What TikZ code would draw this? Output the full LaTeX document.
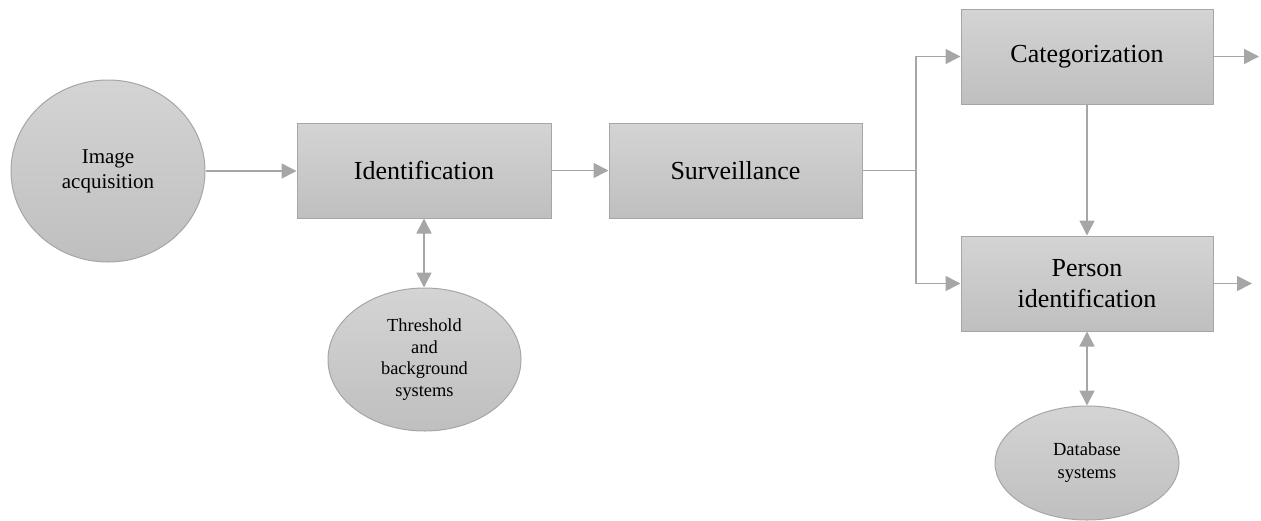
\documentclass[tikz,border=0pt]{standalone}
\usepackage{fontspec}
\setmainfont{Liberation Serif}
\usetikzlibrary{arrows.meta,shapes.geometric,calc}
\definecolor{edgegray}{HTML}{A6A6A6}
\definecolor{filltop}{HTML}{D4D4D4}
\definecolor{fillbot}{HTML}{BFBFBF}
\tikzset{
  x=1pt,y=-1pt,
  procbox/.style={draw=edgegray,line width=1pt,top color=filltop,bottom color=fillbot,
    rectangle,inner sep=0pt,minimum width=253pt,minimum height=95pt,align=center,
    font=\fontsize{26}{31}\selectfont},
  blob/.style={draw=edgegray,line width=1pt,top color=filltop,bottom color=fillbot,
    ellipse,inner sep=0pt,align=center},
  conn/.style={draw=edgegray,line width=1.6pt,-{Triangle[length=15pt,width=15pt]}},
  biconn/.style={draw=edgegray,line width=1.6pt,{Triangle[length=15pt,width=15pt]}-{Triangle[length=15pt,width=15pt]}},
  plain/.style={draw=edgegray,line width=1.6pt},
}
\begin{document}
\begin{tikzpicture}
\useasboundingbox (0,0) rectangle (1261,520);
\node[blob,minimum width=194pt,minimum height=182pt,font=\fontsize{21}{25}\selectfont] (img) at (108,171) {Image\\acquisition};
\node[procbox,minimum width=254pt] (ident) at (424,170.5) {Identification};
\node[procbox] (surv) at (735.5,170.5) {Surveillance};
\node[procbox,minimum width=252pt] (cat) at (1087,56.5) {Categorization};
\node[procbox,minimum width=252pt] (person) at (1087,283.5) {Person\\identification};
\node[blob,minimum width=193pt,minimum height=143pt,font=\fontsize{18.4}{21.7}\selectfont] (thresh) at (424.5,359.5) {Threshold\\and\\background\\systems};
\node[blob,minimum width=184pt,minimum height=114pt,font=\fontsize{18.5}{23}\selectfont] (db) at (1087,463) {Database\\systems};
\coordinate (split) at (916,170.5);
\coordinate (catout) at (1259,56.5);
\coordinate (personout) at (1252,283.5);
\draw[conn] (img.east |- 0,171) -- (ident.west |- 0,171);
\draw[conn] (ident.east) -- (surv.west);
\draw[plain] (surv.east) -- (split);
\draw[conn] (split) |- (cat.west);
\draw[conn] (split) |- (person.west);
\draw[conn] (cat.south) -- (person.north);
\draw[conn] (cat.east) -- (catout);
\draw[conn] (person.east) -- (personout);
\draw[biconn] (ident.south) -- (ident.south |- thresh.north);
\draw[biconn] (person.south) -- (db.north);
\end{tikzpicture}
\end{document}
